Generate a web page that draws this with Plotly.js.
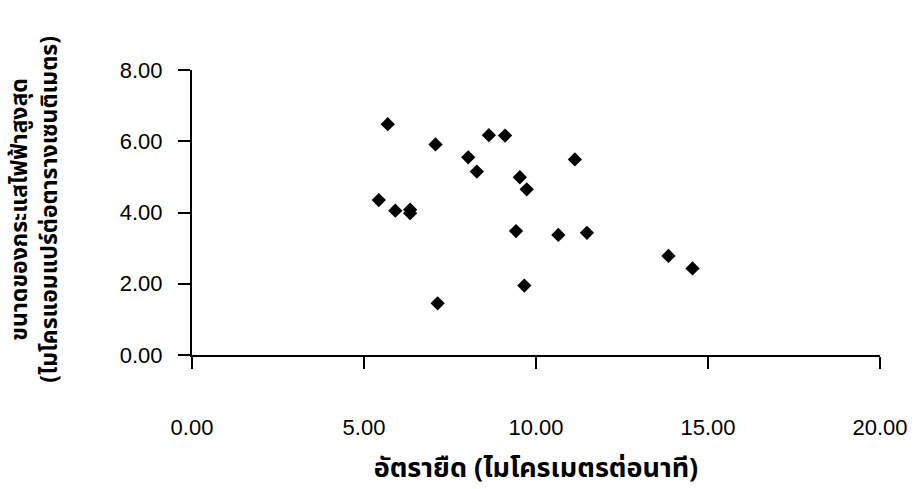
<!DOCTYPE html>
<html>
<head>
<meta charset="utf-8">
<script src="https://cdn.plot.ly/plotly-3.0.1.min.js"></script>
<style>html,body{margin:0;padding:0;background:#fff;}#chart{width:917px;height:489px;}</style>
</head>
<body>
<div id="chart"></div>
<script>
// Elongation rate (micrometres per minute)
const growthRate = [5.69, 5.43, 5.91, 6.34, 6.34, 7.08, 7.14, 8.03, 8.28, 8.63, 9.10, 9.53, 9.73, 9.42, 9.66, 11.13, 10.65, 11.48, 13.85, 14.55];
// Peak electric current (microamperes per square centimetre)
const peakCurrent = [6.48, 4.35, 4.05, 4.08, 3.98, 5.91, 1.45, 5.55, 5.15, 6.17, 6.16, 4.99, 4.65, 3.48, 1.95, 5.49, 3.37, 3.43, 2.78, 2.43];

const xTickVals = [0, 5, 10, 15, 20];
const xTickText = ["0.00", "5.00", "10.00", "15.00", "20.00"];
const yTickVals = [0, 2, 4, 6, 8];
const yTickText = ["0.00", "2.00", "4.00", "6.00", "8.00"];

const xTitle = "อัตรายืด (ไมโครเมตรต่อนาที)";
const yTitleLine1 = "ขนาดของกระแสไฟฟ้าสูงสุด";
const yTitleLine2 = "(ไมโครแอมแปร์ต่อตารางเซนติเมตร)";

const thaiFont = "Tahoma, 'Noto Sans Thai', 'Noto Sans', 'DejaVu Sans', sans-serif";
const numFont = "'Liberation Sans', Arial, sans-serif";

const trace = {
  x: growthRate,
  y: peakCurrent,
  type: "scatter",
  mode: "markers",
  marker: {symbol: "diamond", size: 11, color: "#000"},
  hoverinfo: "x+y"
};

const yTitleFont = {family: thaiFont, size: 23, color: "#000", weight: "bold"};

const layout = {
  width: 917,
  height: 489,
  margin: {l: 192, r: 37, t: 70, b: 134, pad: 0},
  paper_bgcolor: "#fff",
  plot_bgcolor: "#fff",
  showlegend: false,
  xaxis: {
    range: [0, 20],
    tickvals: xTickVals,
    ticktext: xTickText,
    ticks: "outside",
    ticklen: 12,
    tickwidth: 2,
    tickcolor: "#000",
    showline: true,
    linecolor: "#000",
    linewidth: 2,
    showgrid: false,
    zeroline: false,
    automargin: false,
    ticklabelstandoff: 40,
    tickfont: {family: numFont, size: 22, color: "#000"},
    title: {text: xTitle, standoff: 19, font: {family: thaiFont, size: 27, color: "#000", weight: "bold"}}
  },
  yaxis: {
    range: [0, 8],
    tickvals: yTickVals,
    ticktext: yTickText,
    ticks: "outside",
    ticklen: 12,
    tickwidth: 2,
    tickcolor: "#000",
    showline: true,
    linecolor: "#000",
    linewidth: 2,
    showgrid: false,
    zeroline: false,
    automargin: false,
    ticklabelstandoff: 11,
    tickfont: {family: numFont, size: 22, color: "#000"}
  },
  annotations: [
    {text: yTitleLine1, xref: "paper", yref: "paper", x: (20 - 192) / 688, y: 0.51, xanchor: "center", yanchor: "middle", textangle: -90, showarrow: false, font: yTitleFont},
    {text: yTitleLine2, xref: "paper", yref: "paper", x: (50 - 192) / 688, y: 0.51, xanchor: "center", yanchor: "middle", textangle: -90, showarrow: false, font: yTitleFont}
  ]
};

Plotly.newPlot("chart", [trace], layout, {displayModeBar: false, staticPlot: true});
</script>
</body>
</html>
